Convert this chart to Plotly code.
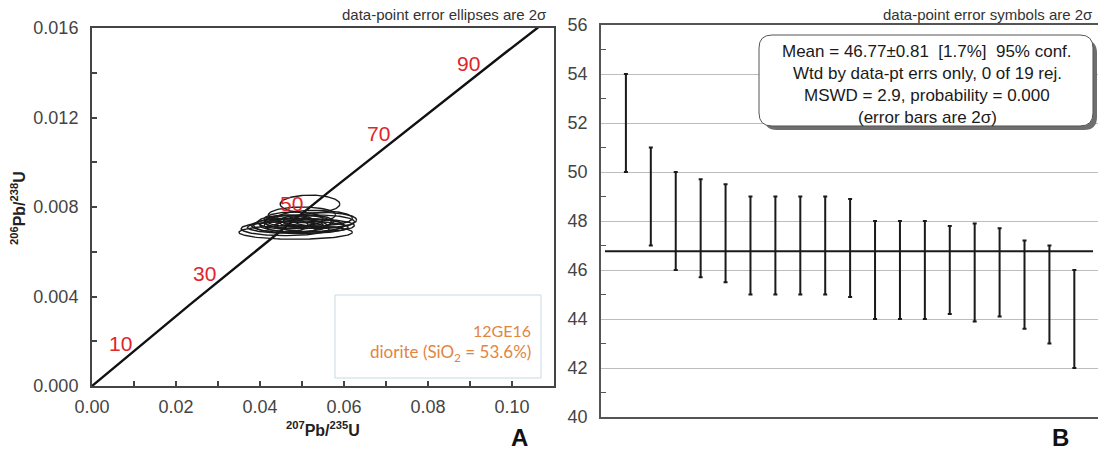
import numpy as np
import plotly.graph_objects as go

W, H = 1098, 452

# ---------------- data ----------------
# Panel A: concordia ages (Ma) labelled on the curve
concordia_label_ages = [10, 30, 50, 70, 90]
# decay constants (per year)
LAMBDA_238 = 1.55125e-10
LAMBDA_235 = 9.8485e-10

# Panel A: data-point error ellipses (centre x, centre y, 2s half-width x, 2s half-height y)
ell_cx = [0.0519, 0.0500, 0.0530, 0.0480, 0.0555, 0.0470, 0.0510, 0.0490, 0.0540, 0.0460,
          0.0480, 0.0500, 0.0450, 0.0520, 0.0470, 0.0530, 0.0490, 0.0460, 0.0485]
ell_cy = [0.00813, 0.00765, 0.00750, 0.00745, 0.00742, 0.00735, 0.00735, 0.00733, 0.00734, 0.00732,
          0.00718, 0.00718, 0.00718, 0.00718, 0.00717, 0.00717, 0.00709, 0.00703, 0.00687]
ell_rx = [0.0071, 0.0080, 0.0090, 0.0070, 0.0075, 0.0060, 0.0065, 0.0080, 0.0085, 0.0065,
          0.0070, 0.0100, 0.0065, 0.0080, 0.0090, 0.0095, 0.0120, 0.0105, 0.0135]
ell_ry = [0.00040, 0.00035, 0.00035, 0.00033, 0.00033, 0.00030, 0.00030, 0.00030, 0.00030, 0.00030,
          0.00031, 0.00031, 0.00031, 0.00028, 0.00031, 0.00028, 0.00028, 0.00031, 0.00031]

# Panel B: weighted-mean ages (Ma) with 2s errors
ages = [52.0, 49.0, 48.0, 47.7, 47.5, 47.0, 47.0, 47.0, 47.0, 46.9,
        46.0, 46.0, 46.0, 46.0, 45.9, 45.9, 45.4, 45.0, 44.0]
age_err = [2.0, 2.0, 2.0, 2.0, 2.0, 2.0, 2.0, 2.0, 2.0, 2.0,
           2.0, 2.0, 2.0, 1.8, 2.0, 1.8, 1.8, 2.0, 2.0]
mean_age = 46.77

box_lines = ["Mean = 46.77±0.81  [1.7%]  95% conf.",
             "Wtd by data-pt errs only, 0 of 19 rej.",
             "MSWD = 2.9, probability = 0.000",
             "(error bars are 2σ)"]
sample_lines = ["12GE16", "diorite (SiO<sub>2</sub> = 53.6%)"]

# ---------------- helpers ----------------
def px(x):
    return x / W

def py(y):
    return 1 - y / H

def conc(t_ma):
    t = np.asarray(t_ma) * 1e6
    return np.exp(LAMBDA_235 * t) - 1, np.exp(LAMBDA_238 * t) - 1

FONT = "Liberation Sans, Arial, sans-serif"
AXC = "#444444"

fig = go.Figure()

# concordia curve
t_curve = np.linspace(0, 105, 300)
cx_, cy_ = conc(t_curve)
fig.add_trace(go.Scatter(x=cx_, y=cy_, mode="lines", line=dict(color="#111111", width=2.4),
                         xaxis="x", yaxis="y", hoverinfo="skip", showlegend=False))

# ellipses
theta = np.linspace(0, 2 * np.pi, 120)
for cx, cy, rx, ry in zip(ell_cx, ell_cy, ell_rx, ell_ry):
    fig.add_trace(go.Scatter(x=cx + rx * np.cos(theta), y=cy + ry * np.sin(theta), mode="lines",
                             line=dict(color="#1a1a1a", width=1.4), xaxis="x", yaxis="y",
                             hoverinfo="skip", showlegend=False))

# panel B error bars
idx = list(range(1, len(ages) + 1))
fig.add_trace(go.Scatter(x=idx, y=ages, mode="markers", marker=dict(size=1, color="rgba(0,0,0,0)"),
                         error_y=dict(type="data", array=age_err, symmetric=True, color="#1a1a1a",
                                      thickness=2, width=2),
                         xaxis="x2", yaxis="y2", showlegend=False))

ann = []
# concordia labels
lx, ly = conc(concordia_label_ages)
for a, xx, yy in zip(concordia_label_ages, lx, ly):
    ann.append(dict(x=xx, y=yy, xref="x", yref="y", text=str(a), showarrow=False,
                    xshift=-13, yshift=8, font=dict(family=FONT, size=21, color="#e0252b")))

def pann(text, x, y, size, color="#333333", xanchor="center", bold=False, angle=0, family=FONT):
    ann.append(dict(x=px(x), y=py(y), xref="paper", yref="paper", text=("<b>%s</b>" % text) if bold else text,
                    showarrow=False, xanchor=xanchor, yanchor="middle", textangle=angle,
                    font=dict(family=family, size=size, color=color)))

pann("data-point error ellipses are 2σ", 549, 14, 15, xanchor="right")
pann("data-point error symbols are 2σ", 1095, 14, 15, xanchor="right")
pann("<sup>207</sup>Pb/<sup>235</sup>U", 323, 429, 16, color="#222222", bold=True)
pann("<sup>206</sup>Pb/<sup>238</sup>U", 18, 208, 16, color="#222222", bold=True, angle=-90)
pann("A", 519, 437, 24, color="#111111", bold=True)
pann("B", 1060, 437, 24, color="#111111", bold=True)
pann(sample_lines[0], 533, 330, 16, color="#e3843f", xanchor="right", family="Lato, sans-serif")
pann(sample_lines[1], 533, 353, 17, color="#e3843f", xanchor="right", family="Lato, sans-serif")
for i, line in enumerate(box_lines):
    pann(line, 927, 51 + i * 22.3, 17, color="#1a1a1a")

# shapes
shapes = []
shapes.append(dict(type="rect", xref="paper", yref="paper", x0=px(335), x1=px(541), y0=py(378), y1=py(295),
                   line=dict(color="#c6dbe2", width=1), fillcolor="rgba(0,0,0,0)"))

def rrect(x0, y0, x1, y1, r):
    rx, ry = r / W, r / H
    X0, X1, Y0, Y1 = px(x0), px(x1), py(y0), py(y1)  # Y0 top (higher paper value)
    return ("M %f,%f L %f,%f Q %f,%f %f,%f L %f,%f Q %f,%f %f,%f L %f,%f Q %f,%f %f,%f L %f,%f Q %f,%f %f,%f Z"
            % (X0 + rx, Y0, X1 - rx, Y0, X1, Y0, X1, Y0 - ry, X1, Y1 + ry, X1, Y1, X1 - rx, Y1,
               X0 + rx, Y1, X0, Y1, X0, Y1 + ry, X0, Y0 - ry, X0, Y0, X0 + rx, Y0))

shapes.append(dict(type="path", xref="paper", yref="paper", path=rrect(764, 40, 1097, 130, 13),
                   fillcolor="#6e6e6e", line=dict(width=0)))
shapes.append(dict(type="path", xref="paper", yref="paper", path=rrect(759, 35, 1093, 126, 13),
                   fillcolor="white", line=dict(color="#555555", width=1)))
shapes.append(dict(type="line", xref="x2 domain", yref="y2", x0=0.008, x1=0.99, y0=mean_age, y1=mean_age,
                   line=dict(color="#1a1a1a", width=2), layer="above"))

TICKF = dict(family=FONT, size=18, color="#444444")

fig.update_layout(
    width=W, height=H, margin=dict(l=0, r=0, t=0, b=0),
    paper_bgcolor="white", plot_bgcolor="white", showlegend=False,
    annotations=ann, shapes=shapes,
    xaxis=dict(domain=[px(92), px(554)], range=[0, 0.11], anchor="y",
               tickvals=[0, 0.02, 0.04, 0.06, 0.08, 0.10], ticktext=["0.00", "0.02", "0.04", "0.06", "0.08", "0.10"],
               ticks="inside", ticklen=5, tickcolor=AXC, tickwidth=1.5,
               minor=dict(dtick=0.01, tick0=0, ticks="inside", ticklen=5, tickcolor=AXC, tickwidth=1.5),
               showline=True, linecolor=AXC, linewidth=2, mirror=True, showgrid=False, zeroline=False,
               ticklabelstandoff=3, tickfont=TICKF, automargin=False),
    yaxis=dict(domain=[py(386), py(28)], range=[0, 0.016], anchor="x",
               tickvals=[0, 0.004, 0.008, 0.012, 0.016], ticktext=["0.000", "0.004", "0.008", "0.012", "0.016"],
               ticks="inside", ticklen=5, tickcolor=AXC, tickwidth=1.5,
               minor=dict(dtick=0.002, tick0=0, ticks="inside", ticklen=5, tickcolor=AXC, tickwidth=1.5),
               showline=True, linecolor=AXC, linewidth=2, mirror=True, showgrid=False, zeroline=False,
               ticklabelstandoff=8, tickfont=TICKF, automargin=False),
    xaxis2=dict(domain=[px(601), 1.0], range=[0, 19.95], anchor="y2",
                showticklabels=False, ticks="", showgrid=False, zeroline=False,
                showline=True, linecolor="#555555", linewidth=1.5, mirror=True, automargin=False),
    yaxis2=dict(domain=[py(417), py(25)], range=[40, 56], anchor="x2",
                dtick=2, tick0=40, ticks="", showgrid=True, gridcolor="#bdbdbd", gridwidth=1,
                minor=dict(dtick=1, tick0=41, ticks="inside", ticklen=5, tickcolor="#555555", showgrid=False),
                showline=True, linecolor="#555555", linewidth=1.5, zeroline=False,
                ticklabelstandoff=8, tickfont=TICKF, automargin=False),
)

fig.write_html("out.html", config={"displayModeBar": False},
               post_script="document.body.style.margin='0';document.body.style.overflow='hidden';")
